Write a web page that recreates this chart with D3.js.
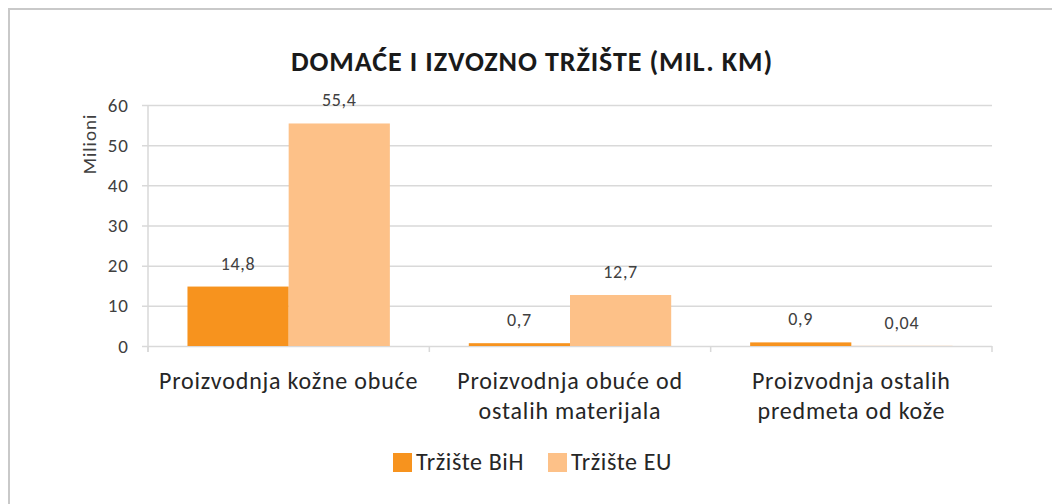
<!DOCTYPE html>
<html>
<head>
<meta charset="utf-8">
<script src="https://cdn.jsdelivr.net/npm/d3@7"></script>
<style>
  body { margin: 0; background: #fff; }
  text { font-family: Carlito, Lato, "Open Sans", sans-serif; fill: #404040; }
</style>
</head>
<body>
<div id="chart"></div>
<script>
var categories = [
  ["Proizvodnja kožne obuće"],
  ["Proizvodnja obuće od", "ostalih materijala"],
  ["Proizvodnja ostalih", "predmeta od kože"]
];
var seriesNames = ["Tržište BiH", "Tržište EU"];
var bihValues = [14.8, 0.7, 0.9];
var euValues = [55.4, 12.7, 0.04];
var valueLabels = [["14,8", "0,7", "0,9"], ["55,4", "12,7", "0,04"]];
var yTicks = [0, 10, 20, 30, 40, 50, 60];
var colors = ["#f7931e", "#fdc188"];

var svgWidth = 1052;
var svgHeight = 504;

var svg = d3.select("#chart")
  .append("svg")
  .attr("width", svgWidth)
  .attr("height", svgHeight);

// chart frame
svg.append("path")
  .attr("d", "M9,504 V9 H1052")
  .attr("fill", "none")
  .attr("stroke", "#c9c9c9")
  .attr("stroke-width", 2);

var plot = { left: 148, right: 992, top: 105, bottom: 346 };

var catIdx = categories.map((d, i) => i);

var x = d3.scaleBand()
  .domain(catIdx)
  .range([plot.left, plot.right]);

var xs = d3.scaleBand()
  .domain([0, 1])
  .range([0, x.bandwidth()])
  .paddingInner(0)
  .paddingOuter(0.39);

var y = d3.scaleLinear()
  .domain([0, 60])
  .range([plot.bottom, plot.top]);

// gridlines + y labels
var yAxis = d3.axisLeft(y)
  .tickValues(yTicks)
  .tickSize(-(plot.right - plot.left))
  .tickPadding(19)
  .tickFormat(d3.format("d"));

var gy = svg.append("g")
  .attr("transform", `translate(${plot.left},0)`)
  .call(yAxis);
gy.select(".domain").remove();
gy.selectAll(".tick line")
  .attr("stroke", "#d9d9d9")
  .attr("stroke-width", 1.5)
  .attr("x1", -6);
gy.selectAll(".tick text")
  .attr("font-size", 19)
  .attr("letter-spacing", 1)
  .style("fill", "#404040");

// vertical axis line
svg.append("line")
  .attr("x1", plot.left).attr("x2", plot.left)
  .attr("y1", plot.top).attr("y2", plot.bottom + 6)
  .attr("stroke", "#d9d9d9").attr("stroke-width", 1.5);

// category tick marks
var bounds = catIdx.map(i => x(i)).concat([plot.right]);
svg.append("g").selectAll("line")
  .data(bounds)
  .enter()
  .append("line")
  .attr("x1", d => d).attr("x2", d => d)
  .attr("y1", plot.bottom).attr("y2", plot.bottom + 6)
  .attr("stroke", "#d9d9d9").attr("stroke-width", 1.5);

// bars
var series = [bihValues, euValues];
series.forEach(function(vals, s) {
  svg.append("g").selectAll("rect")
    .data(vals)
    .enter()
    .append("rect")
    .attr("x", (d, i) => x(i) + xs(s))
    .attr("width", xs.bandwidth())
    .attr("y", d => y(d))
    .attr("height", d => y(0) - y(d))
    .attr("fill", colors[s]);

  svg.append("g").selectAll("text")
    .data(vals)
    .enter()
    .append("text")
    .attr("x", (d, i) => x(i) + xs(s) + xs.bandwidth() / 2)
    .attr("y", d => y(d) - 17)
    .attr("text-anchor", "middle")
    .attr("font-size", 18)
    .attr("letter-spacing", 0.7)
    .text((d, i) => valueLabels[s][i]);
});

// category labels
var catLabels = svg.append("g").selectAll("text")
  .data(categories)
  .enter()
  .append("text")
  .attr("text-anchor", "middle")
  .attr("font-size", 24)
  .attr("letter-spacing", 0.8)
  .style("fill", "#262626")
  .attr("x", (d, i) => x(i) + x.bandwidth() / 2)
  .attr("y", 389);
catLabels.selectAll("tspan")
  .data(d => d)
  .enter()
  .append("tspan")
  .attr("x", function() { return d3.select(this.parentNode).attr("x"); })
  .attr("dy", (d, i) => i === 0 ? 0 : 30)
  .text(d => d);

// title
svg.append("text")
  .attr("x", 532)
  .attr("y", 71)
  .attr("text-anchor", "middle")
  .attr("font-size", 28)
  .attr("font-weight", "bold")
  .attr("letter-spacing", 0.9)
  .style("fill", "#1a1a1a")
  .text("DOMAĆE I IZVOZNO TRŽIŠTE (MIL. KM)");

// y axis title
svg.append("text")
  .attr("transform", "translate(96,144) rotate(-90)")
  .attr("text-anchor", "middle")
  .attr("font-size", 19)
  .attr("letter-spacing", 1)
  .text("Milioni");

// legend
var legendX = [393, 548];
var legend = svg.append("g").selectAll("g")
  .data(seriesNames)
  .enter()
  .append("g")
  .attr("transform", (d, i) => `translate(${legendX[i]},453)`);
legend.append("rect")
  .attr("width", 19).attr("height", 19)
  .attr("fill", (d, i) => colors[i]);
legend.append("text")
  .attr("x", 23)
  .attr("y", 17)
  .attr("font-size", 24)
  .attr("letter-spacing", 0.6)
  .style("fill", "#262626")
  .text(d => d);
</script>
</body>
</html>
